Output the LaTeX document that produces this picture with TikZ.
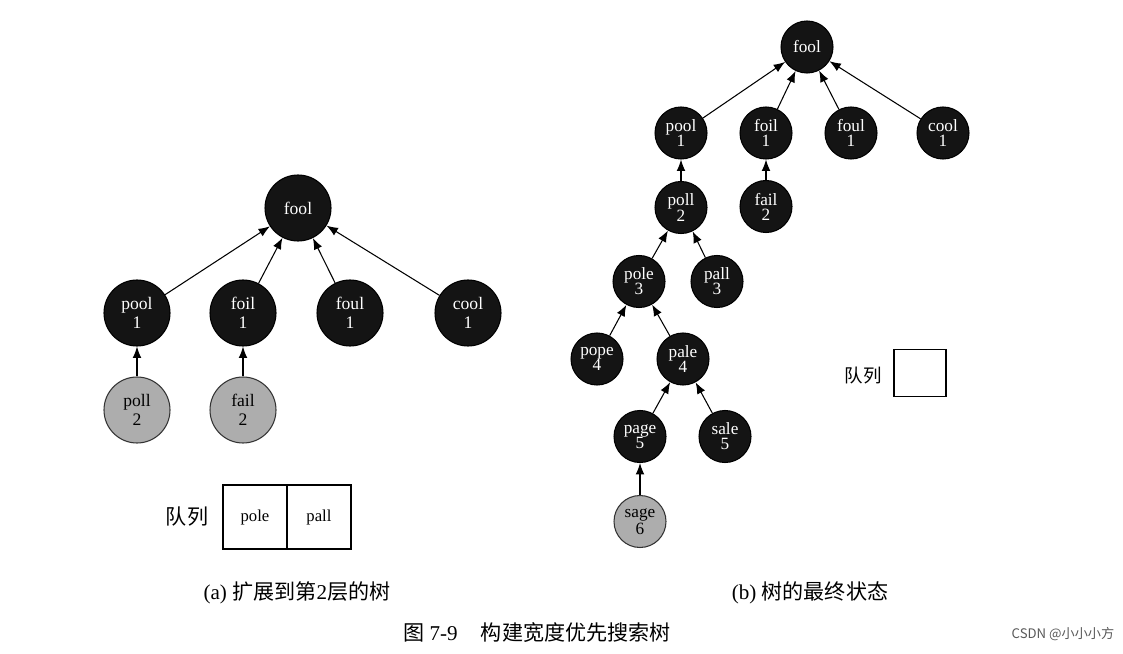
\documentclass[tikz,border=0pt]{standalone}
\usepackage{fontspec}
\setmainfont{Liberation Serif}
\newfontfamily\cjk{Noto Sans CJK SC}
\usepackage{tikz}
\usetikzlibrary{arrows,arrows.meta,positioning,shapes.geometric}

\begin{document}
\begin{tikzpicture}[
    auto,
    node distance=2.1cm,
    >={Latex[length=6.5pt,width=5pt]},
    line width=0.6pt,
    word/.style={
		circle,
		draw=black,
		fill=black!92,
		text=white,
		text centered,
		align=center,
		inner sep=0pt,
		minimum size=13.2mm,
		font=\fontsize{10}{10.5}\selectfont
	},
	leaf/.style={
		word,
		draw=black!80,
		fill=black!32,
		text=black
	},
	wordb/.style={
		word,
		minimum size=10.4mm,
		font=\fontsize{9.8}{8.6}\selectfont
	},
	leafb/.style={
		wordb,
		draw=black!80,
		fill=black!32,
		text=black
	},
	cell/.style={
		rectangle,
		draw=black,
		text centered,
		inner sep=0pt,
		minimum height=12.8mm,
		minimum width=12.8mm,
		font=\fontsize{9.5}{10}\selectfont
	},
	figcap/.style={
	  font=\fontsize{12}{14}\selectfont
    }
  ]

\useasboundingbox (0,0) rectangle (22.46,-13.08);
\fill [white] (0,0) rectangle (22.46,-13.08);

% // (a) tree after level 2
\node [word] (fool1) at (5.96,-4.16) {fool};
\node [word, below of=fool1, xshift=-3.22cm] (pool1) {pool\\1};
\node [word, below of=fool1, xshift=-1.1cm] (foil1) {foil\\1};
\node [word, below of=fool1, xshift=1.04cm] (foul1) {foul\\1};
\node [word, below of=fool1, xshift=3.4cm] (cool1) {cool\\1};
\node [leaf, below of=pool1, yshift=0.16cm] (poll1) {poll\\2};
\node [leaf, below of=foil1, yshift=0.16cm] (fail1) {fail\\2};

\draw [->] (pool1) -- (fool1);
\draw [->] (foil1) -- (fool1);
\draw [->] (foul1) -- (fool1);
\draw [->] (cool1) -- (fool1);
\draw [->] (poll1) -- (pool1);
\draw [->] (fail1) -- (foil1);

% queue
\node [cell] (queue1) at (5.1,-10.34) {pole};
\node [cell, right of=queue1, node distance=1.28cm] (queue2) {pall};
\node [left of=queue1, node distance=1.36cm, font=\cjk\fontsize{12}{14}\selectfont] (qlabel1) {队列};

\node [figcap] (capa) at (5.94,-11.86) {(a) {\cjk 扩展到第}2{\cjk 层的树}};

% // (b) final tree
\node [wordb] (fool2) at (16.14,-0.94) {fool};
\node [wordb, node distance=1.55cm, below of=fool2, xshift=-2.52cm, yshift=-0.17cm] (pool2) {pool\\1};
\node [wordb, node distance=1.55cm, below of=fool2, xshift=-0.82cm, yshift=-0.17cm] (foil2) {foil\\1};
\node [wordb, node distance=1.55cm, below of=fool2, xshift=0.88cm, yshift=-0.17cm] (foul2) {foul\\1};
\node [wordb, node distance=1.55cm, below of=fool2, xshift=2.72cm, yshift=-0.17cm] (cool2) {cool\\1};
\node [wordb, node distance=1.55cm, below of=pool2, yshift=0.06cm] (poll2) {poll\\2};
\node [wordb, node distance=1.55cm, below of=foil2, yshift=0.08cm] (fail2) {fail\\2};
\node [wordb, node distance=1.55cm, below of=poll2, xshift=-0.84cm, yshift=0.07cm] (pole2) {pole\\3};
\node [wordb, node distance=1.55cm, below of=poll2, xshift=0.72cm, yshift=0.07cm] (pall2) {pall\\3};
\node [wordb, node distance=1.55cm, below of=pole2, xshift=-0.84cm] (pope2) {pope\\4};
\node [wordb, node distance=1.55cm, below of=pole2, xshift=0.88cm] (pale2) {pale\\4};
\node [wordb, node distance=1.55cm, below of=pale2, xshift=-0.86cm] (page2) {page\\5};
\node [wordb, node distance=1.55cm, below of=pale2, xshift=0.84cm] (sale2) {sale\\5};
\node [leafb, node distance=1.55cm, below of=page2, yshift=-0.15cm] (sage2) {sage\\6};

\draw [->] (pool2) -- (fool2);
\draw [->] (foil2) -- (fool2);
\draw [->] (foul2) -- (fool2);
\draw [->] (cool2) -- (fool2);
\draw [->] (poll2) -- (pool2);
\draw [->] (fail2) -- (foil2);
\draw [->] (pole2) -- (poll2);
\draw [->] (pall2) -- (poll2);
\draw [->] (pope2) -- (pole2);
\draw [->] (pale2) -- (pole2);
\draw [->] (page2) -- (pale2);
\draw [->] (sale2) -- (pale2);
\draw [->] (sage2) -- (page2);

% empty queue
\node [cell, minimum width=10.4mm, minimum height=9.4mm] (queue3) at (18.4,-7.46) {};
\node [left of=queue3, node distance=1.14cm, yshift=-0.06cm, font=\cjk\fontsize{10.5}{12}\selectfont] (qlabel2) {队列};

\node [figcap] (capb) at (16.2,-11.86) {(b) {\cjk 树的最终状态}};

% // caption
\node [figcap] (fig) at (10.74,-12.66) {{\cjk 图} 7-9\hspace{1.1em}{\cjk 构建宽度优先搜索树}};
\node [font=\cjk\fontsize{7.5}{9}\selectfont, text=black!65] (mark) at (21.26,-12.68) {CSDN @小小小方};

\end{tikzpicture}
\end{document}
